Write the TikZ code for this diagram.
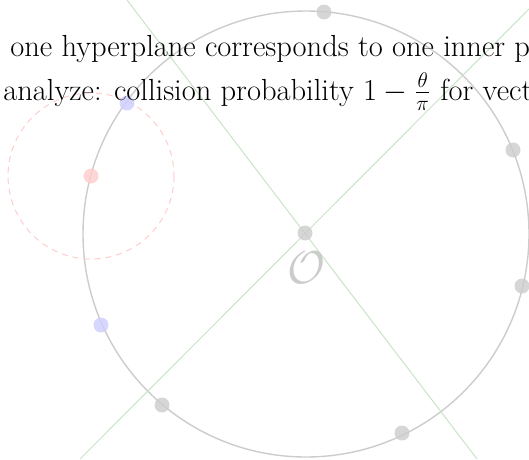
\documentclass[tikz,border=0pt]{standalone}
\definecolor{sphere}{RGB}{204,204,204}
\definecolor{hyper}{RGB}{200,228,198}
\definecolor{query}{RGB}{204,204,255}
\definecolor{near}{RGB}{255,204,204}
\begin{document}
\begin{tikzpicture}[x=1pt,y=-1pt,
	dot/.style={circle,inner sep=0pt,minimum size=15pt},
	txt/.style={anchor=base west,inner sep=0pt,font=\fontsize{17.28}{21}\selectfont,scale=1.765}]
	\useasboundingbox (0,0) rectangle (529,459);
	\clip (0,0) rectangle (529,459);
	% sphere and hyperplanes
	\coordinate (c) at (306,234);
	\draw[sphere,line width=1.4pt] (c) circle[radius=223];
	\coordinate (ha) at (127,0);
	\coordinate (hb) at (477,459);
	\coordinate (hc) at (80,459);
	\coordinate (hd) at (538,0);
	\draw[hyper,line width=1pt] (ha) -- (hb);
	\draw[hyper,line width=1pt] (hc) -- (hd);
	% neighbourhood of the query
	\node[dot,fill=near,opacity=0.8] (r) at (91,176) {};
	\draw[near,line width=1pt,dash pattern=on 6pt off 5pt] (r) circle[radius=83];
	% data points
	\node[dot,fill=sphere,opacity=0.8] (o) at (305,233) {};
	\node[dot,fill=sphere,opacity=0.8] (p1) at (324,12) {};
	\node[dot,fill=sphere,opacity=0.8] (p2) at (513,150) {};
	\node[dot,fill=sphere,opacity=0.8] (p3) at (522,286) {};
	\node[dot,fill=sphere,opacity=0.8] (p4) at (402,433) {};
	\node[dot,fill=sphere,opacity=0.8] (p5) at (162,405) {};
	\node[dot,fill=query,opacity=0.8] (q1) at (127,103) {};
	\node[dot,fill=query,opacity=0.8] (q2) at (101,325) {};
	\node[text=sphere,font=\fontsize{24.88}{30}\selectfont,scale=1.85] (olab) at (306,268) {$\mathcal{O}$};
	% caption
	\node[txt] (line1) at (10,56) {one hyperplane corresponds to one inner p};
	\node[txt] (line2) at (3,100) {analyze: collision probability $1-\frac{\theta}{\pi}$ for vect};
\end{tikzpicture}
\end{document}
